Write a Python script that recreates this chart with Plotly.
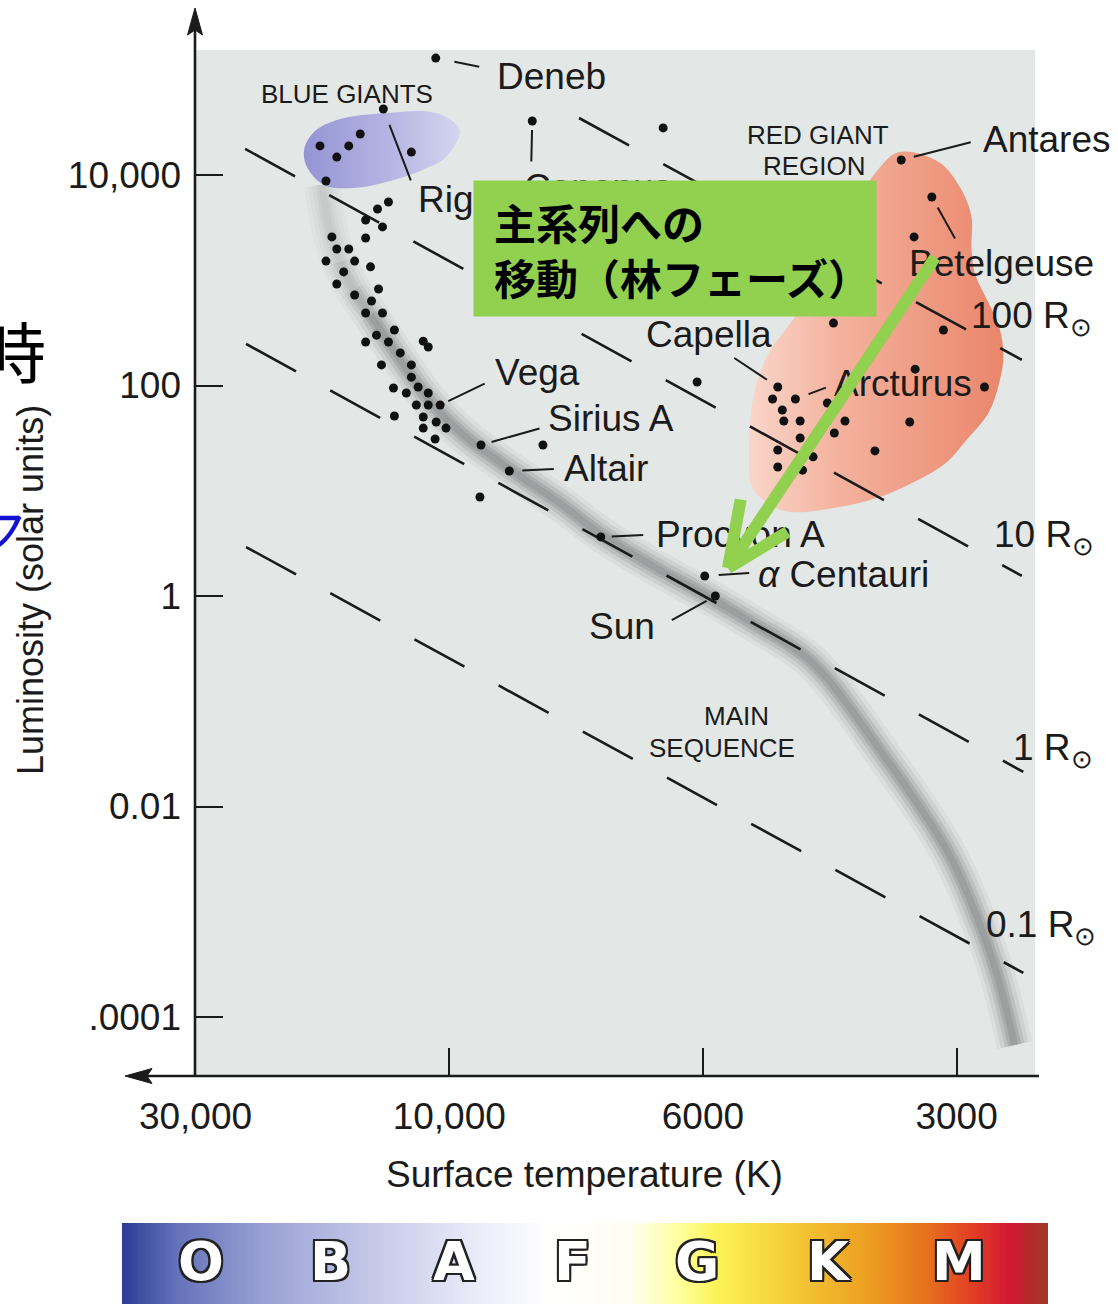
import numpy as np
import plotly.graph_objects as go

W, H = 1118, 1304

# ---------------------------------------------------------------- axes data
TICK_T = [30000, 10000, 6000, 3000]
TICK_TEXT = ["30,000", "10,000", "6000", "3000"]
LUM_TICKS = [1e4, 1e2, 1, 1e-2, 1e-4]
LUM_TEXT = ["10,000", "100", "1", "0.01", ".0001"]

# ---------------------------------------------------------------- named stars
NAMES = ["Deneb", "Rigel", "Canopus", "Vega", "Sirius A", "Altair", "Capella",
         "Arcturus", "Betelgeuse", "Antares", "Procyon A", "<i>α</i> Centauri", "Sun"]
NAMED_T = [10600, 13300, 8460, 10400, 9380, 8860, 4890,
           4660, 3210, 3490, 7370, 5970, 5800]
NAMED_L = [129000, 42400, 32600, 65.3, 27.2, 15.4, 96.8,
           74.4, 6180, 13900, 3.64, 1.55, 1.0]

# ---------------------------------------------------------------- other stars
FIELD_T = [14700, 17500, 15450, 16270, 11780, 17050, 6500,
           13010, 13640, 14360, 13350, 14360, 16620, 16270, 15450, 17050, 15060,
           14060, 15790, 16270, 15060, 14000, 13580, 14360, 13350, 12680, 13700,
           13010, 14360, 11190, 10950, 12360, 13410, 11780, 11780, 12730, 12040,
           11440, 10950, 11530, 10950, 12680, 11190, 10580, 11190, 10140, 10630,
           8280, 9400,
           6070, 4960, 4830, 4810, 4600, 4270, 4070, 4190, 4600, 4890, 4440,
           4890, 4570, 3750, 3410, 3360, 2780, 4200, 3110, 3370]
FIELD_L = [24500, 18900, 18900, 14800, 16500, 8770, 28000,
           5540, 4750, 3740, 3210, 2520, 2580, 1980, 1980, 1520, 1520,
           1340, 1200, 921, 724, 635, 826, 489, 489, 337, 301,
           259, 259, 264, 232, 204, 157, 157, 120, 94.7, 84.9,
           96.8, 84.9, 65.3, 65.3, 51.3, 50.2, 45.0, 39.4, 39.4, 31.0,
           27.2, 8.73,
           108, 74.4, 58.5, 46.0, 46.0, 68.2, 46.0, 35.4, 31.7, 24.4, 21.0,
           16.8, 15.7, 23.9, 45.0, 143, 96.8, 392, 337, 2580]

# ---------------------------------------------------------------- main sequence ridge
MS_T = [17350, 16760, 16060, 15120, 14060, 12360, 10720, 9670, 9160, 8580, 8010,
        7350, 6660, 5820, 5120, 4720, 4480, 4260, 4030, 3700, 3360, 3050, 2820,
        2690, 2560]
MS_L = [8040, 3000, 1490, 808, 468, 175, 65.3, 32.4, 20.9, 12.7, 7.65,
        3.80, 1.97, 0.916, 0.497, 0.335, 0.245, 0.160, 0.090, 0.0344, 0.0115,
        0.00331, 0.000782, 0.000262, 0.0000542]

# ---------------------------------------------------------------- giant regions
BLUE_T = [18750, 17960, 16270, 13120, 10580, 9790, 10140, 11190, 13120, 15120, 17200, 18510]
BLUE_L = [17300, 25600, 33300, 38800, 38800, 26800, 14800, 11200, 8580, 7520, 8040, 11900]

RED_T = [3510, 3150, 2960, 2880, 2880, 2850, 2760, 2670, 2640, 2670, 2750, 2920, 3090, 3370,
         3700, 4130, 4720, 4990, 5240, 5290, 5270, 5190, 4990, 4790, 4530, 4240, 3960, 3720]
RED_L = [16500, 13300, 7200, 3990, 1940, 1120, 649, 360, 195, 106, 54.8, 30.4, 18.4, 12.1,
         8.72, 7.01, 6.28, 7.32, 10.6, 21.9, 47.0, 101, 217, 337, 649, 1940, 5190, 11200]

# ---------------------------------------------------------------- constant-radius lines
RADII = ["100", "10", "1", "0.1"]
R_T_HOT = [7700, 24200, 24100, 24100]
R_L_HOT = [34800, 17700, 248, 2.92]
R_T_COOL = [2510, 2510, 2500, 2500]
R_L_COOL = [175, 1.55, 0.0213, 0.000262]

# ---------------------------------------------------------------- spectral classes
CLASSES = ["O", "B", "A", "F", "G", "K", "M"]
CLASS_T = [29200, 16700, 9900, 7790, 6060, 4240, 2980]


def temp_to_pos(t):
    """Stretched temperature scale: the labelled temperatures sit one unit
    apart, log-linear in between and extrapolated past either end."""
    lt = np.log10(np.atleast_1d(np.asarray(t, dtype=float)))
    anc = np.log10(TICK_T)
    out = np.empty_like(lt)
    for i, v in enumerate(lt):
        k = 0 if v >= anc[1] else (1 if v >= anc[2] else 2)
        out[i] = k + (anc[k] - v) / (anc[k] - anc[k + 1])
    return out


def fx(p):  # page pixel -> paper x
    return p / W


def fy(p):  # page pixel -> paper y
    return 1 - p / H


FONT = "Liberation Sans, Arial, Helvetica, sans-serif"
INK = "#1b1b1b"
PLOT_BG = "#e3e8e6"

fig = go.Figure()

# main-sequence band, built up from soft layers
ms_x = temp_to_pos(MS_T)
for w, a in [(36, 0.07), (28, 0.10), (20, 0.15), (13, 0.20), (7, 0.18)]:
    fig.add_trace(go.Scatter(
        x=ms_x, y=MS_L, mode="lines",
        line=dict(color=f"rgba(95,100,99,{a})", width=w, shape="spline", smoothing=1.2),
        hoverinfo="skip"))
# the band fades out towards its hot end
for n, a in [(5, 0.25), (4, 0.25), (3, 0.3)]:
    fig.add_trace(go.Scatter(
        x=ms_x[:n], y=MS_L[:n], mode="lines",
        line=dict(color=PLOT_BG, width=40, shape="spline", smoothing=1.2),
        opacity=a, hoverinfo="skip"))

# giant regions
bx = temp_to_pos(BLUE_T)
fig.add_trace(go.Scatter(
    x=np.append(bx, bx[0]), y=BLUE_L + BLUE_L[:1], mode="lines", fill="toself",
    line=dict(width=0, shape="spline", smoothing=1.0),
    fillgradient=dict(type="horizontal",
                      colorscale=[[0, "#9494d4"], [0.5, "#b2b2e2"], [1, "#d4d5ef"]]),
    hoverinfo="skip"))
rx = temp_to_pos(RED_T)
fig.add_trace(go.Scatter(
    x=np.append(rx, rx[0]), y=RED_L + RED_L[:1], mode="lines", fill="toself",
    line=dict(width=0, shape="spline", smoothing=1.0),
    fillgradient=dict(type="horizontal",
                      colorscale=[[0, "#f9d6ca"], [0.35, "#f4b29e"], [1, "#ea866b"]]),
    hoverinfo="skip"))

# lines of constant radius
for th, lh, tc, lc in zip(R_T_HOT, R_L_HOT, R_T_COOL, R_L_COOL):
    fig.add_trace(go.Scatter(
        x=temp_to_pos([th, tc]), y=[lh, lc], mode="lines",
        line=dict(color=INK, width=2.6, dash="57px,39px"), hoverinfo="skip"))

# stars
fig.add_trace(go.Scatter(
    x=np.concatenate([temp_to_pos(FIELD_T), temp_to_pos(NAMED_T)]),
    y=FIELD_L + NAMED_L, mode="markers",
    marker=dict(size=9, color="#111111", line=dict(width=0)), hoverinfo="skip"))

# spectral-class colour strip, on the same temperature scale
strip_lo, strip_hi = (122 - 195) / 253.7, (1048 - 195) / 253.7
strip_x = np.linspace(strip_lo, strip_hi, 400)
STRIP_COLORS = [
    [0.00, "#2a3c94"], [0.06, "#6672ba"], [0.16, "#9ca4d6"], [0.28, "#c8cbea"],
    [0.39, "#eceefa"], [0.46, "#ffffff"], [0.55, "#fffdf0"], [0.60, "#ffffa0"],
    [0.64, "#fcf45a"], [0.69, "#f8dc40"], [0.75, "#f2bc30"], [0.81, "#ec9c20"],
    [0.87, "#e6701e"], [0.92, "#e23c24"], [0.96, "#d01832"], [1.00, "#9e3a26"]]
fig.add_trace(go.Heatmap(
    x=strip_x, y=[0, 1], z=[strip_x, strip_x], colorscale=STRIP_COLORS,
    zmin=strip_lo, zmax=strip_hi, showscale=False, xaxis="x2", yaxis="y2",
    hoverinfo="skip"))

ann = []

# star labels and leader lines: (text dx, dy, anchor, leader dx, dy, standoff)
LABEL_LAYOUT = [
    (59, 18, "left", 45, 9, 19),
    (33, 91, "left", 28, 73, 17),
    (-10, 67, "left", -1, 42, 9),
    (53, -32, "left", 46, -22, 9),
    (65, -27, "left", 60, -17, 11),
    (53, -3, "left", 46, -2, 13),
    (-4, -52, "right", -45, -30, 13),
    (37, -16, "left", 32, -12, 14),
    (-25, 66, "left", 24, 43, 12),
    (80, -20, "left", 71, -18, 13),
    (53, -2, "left", 44, -2, 11),
    (51, -1, "left", 46, -3, 14),
    (-58, 30, "right", -45, 25, 10),
]
star_x = temp_to_pos(NAMED_T)
for name, sx, lum, (dx, dy, anc, tx, ty, so) in zip(NAMES, star_x, NAMED_L, LABEL_LAYOUT):
    ly = float(np.log10(lum))
    ann.append(dict(x=sx, y=ly, xref="x", yref="y", text="", showarrow=True,
                    arrowhead=0, arrowwidth=2, arrowcolor=INK, ax=tx, ay=ty,
                    standoff=so))
    ann.append(dict(x=sx, y=ly, xref="x", yref="y", text=name, showarrow=False,
                    xshift=dx, yshift=-dy, xanchor=anc, yanchor="middle",
                    font=dict(family=FONT, size=37, color=INK)))

# radius labels at the cool end of each line
R_SHIFT = [(-53, 42), (-30, 39), (-12, 22), (-39, 46)]
for r, tc, lc, (dx, dy) in zip(RADII, R_T_COOL, R_L_COOL, R_SHIFT):
    ann.append(dict(x=temp_to_pos(tc)[0], y=float(np.log10(lc)), xref="x", yref="y",
                    text=f"{r} R<sub>⊙</sub>", showarrow=False, xshift=dx, yshift=dy,
                    xanchor="left", yanchor="middle",
                    font=dict(family=FONT, size=37, color=INK)))

# region captions
for txt, x, y in [("BLUE GIANTS", 347, 94), ("RED GIANT", 818, 135), ("REGION", 814, 166),
                  ("MAIN", 736, 716), ("SEQUENCE", 722, 748)]:
    ann.append(dict(x=fx(x), y=fy(y), xref="paper", yref="paper", text=txt,
                    showarrow=False, xanchor="center", yanchor="middle",
                    font=dict(family=FONT, size=26, color=INK)))

# axis titles
ann.append(dict(x=fx(31), y=fy(590), xref="paper", yref="paper",
                text="Luminosity (solar units)", textangle=-90, showarrow=False,
                xanchor="center", yanchor="middle",
                font=dict(family=FONT, size=36, color=INK)))
ann.append(dict(x=fx(584), y=fy(1174), xref="paper", yref="paper",
                text="Surface temperature (K)", showarrow=False,
                xanchor="center", yanchor="middle",
                font=dict(family=FONT, size=37, color=INK)))

# slide text running in from the left edge
ann.append(dict(x=fx(48), y=fy(349), xref="paper", yref="paper", text="時",
                showarrow=False, xanchor="right", yanchor="middle",
                font=dict(family="Noto Sans CJK JP", size=66, color="#000000")))
ann.append(dict(x=fx(24), y=fy(530), xref="paper", yref="paper", text="フ",
                showarrow=False, xanchor="right", yanchor="middle",
                font=dict(family="Noto Sans CJK JP", size=56, color="#1212d0",
                          style="italic")))

# green call-out box and arrow
ann.append(dict(x=fx(473), y=fy(180), xref="paper", yref="paper", text=" ",
                showarrow=False, xanchor="left", yanchor="top", width=402, height=135,
                bgcolor="#92d050", borderpad=0))
ann.append(dict(x=fx(492), y=fy(249), xref="paper", yref="paper",
                text="<b>主系列への<br>移動（林フェーズ）</b>", showarrow=False,
                xanchor="left", yanchor="middle", align="left",
                font=dict(family="Noto Sans CJK JP", size=42, color="#000000")))
for tx, ty in [(208, -312), (13, -70), (61, -37)]:
    ann.append(dict(x=fx(728), y=fy(568), xref="paper", yref="paper", text="",
                    showarrow=True, arrowhead=0, arrowwidth=12, arrowcolor="#92d050",
                    ax=tx, ay=ty, standoff=0))

# spectral class letters
for c, x in zip(CLASSES, temp_to_pos(CLASS_T)):
    ann.append(dict(x=x, y=0.52, xref="x2", yref="y2", text=f"<b>{c}</b>",
                    showarrow=False,
                    font=dict(family="DejaVu Sans", size=54, color="white",
                              shadow="-2px -2px 0 #222, 2px -2px 0 #222, -2px 2px 0 #222, "
                                     "2px 2px 0 #222, 0 2px 0 #222, 0 -2px 0 #222, "
                                     "2px 0 0 #222, -2px 0 0 #222")))

# axis lines with arrowheads
shapes = [
    dict(type="line", xref="paper", yref="paper", x0=fx(195), x1=fx(195),
         y0=fy(1076), y1=fy(30), line=dict(color=INK, width=2.6)),
    dict(type="path", xref="paper", yref="paper",
         path=f"M {fx(195)},{fy(8)} L {fx(187.5)},{fy(35)} L {fx(195)},{fy(30)} "
              f"L {fx(202.5)},{fy(35)} Z",
         fillcolor=INK, line=dict(color=INK, width=1)),
    dict(type="line", xref="paper", yref="paper", x0=fx(140), x1=fx(1039),
         y0=fy(1076), y1=fy(1076), line=dict(color=INK, width=2.6)),
    dict(type="path", xref="paper", yref="paper",
         path=f"M {fx(125)},{fy(1076)} L {fx(152)},{fy(1068.5)} L {fx(147)},{fy(1076)} "
              f"L {fx(152)},{fy(1083.5)} Z",
         fillcolor=INK, line=dict(color=INK, width=1)),
]

fig.update_layout(
    width=W, height=H, margin=dict(l=0, r=0, t=0, b=0, autoexpand=False),
    paper_bgcolor="white", plot_bgcolor=PLOT_BG,
    showlegend=False, hovermode=False,
    xaxis=dict(domain=[195 / W, 1035 / W], range=[-0.002, 3.309],
               tickvals=list(temp_to_pos(TICK_T)), ticktext=TICK_TEXT,
               ticks="inside", ticklen=27, tickwidth=2.4, tickcolor=INK,
               showgrid=False, zeroline=False, showline=False, automargin=False,
               tickfont=dict(family=FONT, size=37, color=INK), ticklabelstandoff=16),
    yaxis=dict(type="log", domain=[1 - 1075 / H, 1 - 50 / H], range=[-4.55107, 5.18765],
               tickvals=LUM_TICKS, ticktext=LUM_TEXT,
               ticks="inside", ticklen=28, tickwidth=2.4, tickcolor=INK,
               showgrid=False, zeroline=False, showline=False, automargin=False,
               tickfont=dict(family=FONT, size=37, color=INK), ticklabelstandoff=13),
    xaxis2=dict(domain=[122 / W, 1048 / W], range=[strip_lo, strip_hi],
                visible=False, anchor="y2"),
    yaxis2=dict(domain=[0, 81 / H], range=[0, 1], visible=False, anchor="x2"),
    annotations=ann, shapes=shapes,
)

fig.write_html("out.html")
